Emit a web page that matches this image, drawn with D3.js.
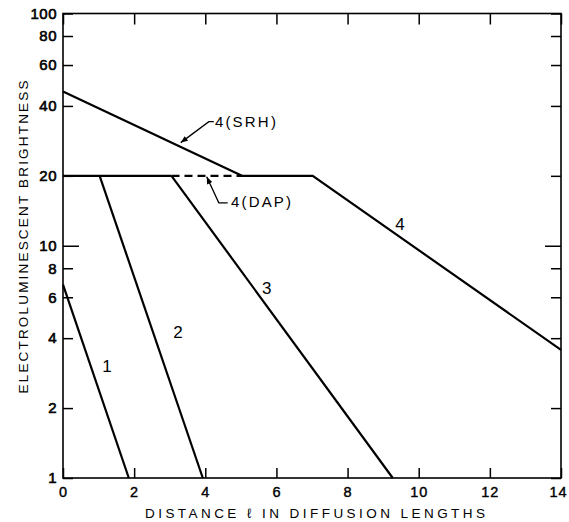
<!DOCTYPE html>
<html>
<head>
<meta charset="utf-8">
<script src="https://cdn.jsdelivr.net/npm/d3@7"></script>
<style>
  html, body { margin: 0; padding: 0; background: #fff; }
  svg { display: block; }
  text { font-family: "Liberation Sans", Arial, sans-serif; fill: #000; }
</style>
</head>
<body>
<svg id="chart" width="569" height="522"></svg>
<script>
// ---- data ----
const xTicks = [0, 2, 4, 6, 8, 10, 12, 14];
const yTicks = [1, 2, 4, 6, 8, 10, 20, 40, 60, 80, 100];
const yTickLabels = ["1", "2", "4", "6", "8", "10", "20", "40", "60", "80", "100"];

const curve1 = [[0, 6.8], [1.85, 1]];
const curve2 = [[1.03, 20], [3.93, 1]];
const curve3 = [[3.05, 20], [9.27, 1]];
const plateau = [[0, 20], [3.05, 20]];
const curve4DAP = [[3.05, 20], [5.03, 20]];
const curve4SRH = [[0, 46.2], [5.03, 20]];
const curve4 = [[5.03, 20], [7.02, 20], [14, 3.56]];

const curveLabels = [
  { text: "1", x: 1.24, y: 2.98 },
  { text: "2", x: 3.23, y: 4.17 },
  { text: "3", x: 5.73, y: 6.46 },
  { text: "4", x: 9.47, y: 12.2 }
];
const callouts = [
  { text: "4(SRH)", tx: 4.27, ty: 33.9, path: [[4.24, 34.2], [4.10, 34.2], [3.31, 27.8]] },
  { text: "4(DAP)", tx: 4.72, ty: 15.2, path: [[4.63, 15.3], [4.38, 15.3], [4.04, 19.8]] }
];

// ---- layout ----
const svg = d3.select("#chart");
const mLeft = 63, mRight = 561, mTop = 13.5, mBottom = 478;

const x = d3.scaleLinear().domain([0, 14]).range([mLeft, mRight]);
const y = d3.scaleLog().domain([1, 100]).range([mBottom, mTop]);

const line = d3.line().x(d => x(d[0])).y(d => y(d[1]));

// frame
svg.append("rect")
  .attr("x", mLeft).attr("y", mTop)
  .attr("width", mRight - mLeft).attr("height", mBottom - mTop)
  .attr("fill", "none").attr("stroke", "#000").attr("stroke-width", 1.6);

// inward ticks via axes
const tickLen = d => (d === 10 ? 16 : 10);

const gLeft = svg.append("g").attr("transform", `translate(${mLeft},0)`)
  .call(d3.axisLeft(y).tickValues(yTicks).tickFormat((d, i) => yTickLabels[i]).tickSize(0).tickPadding(6));
gLeft.select(".domain").remove();
gLeft.selectAll(".tick line").each(function(d) {
  d3.select(this).attr("x2", tickLen(d)).attr("stroke-width", 1.5);
});
gLeft.selectAll(".tick text").attr("font-size", 15).attr("font-family", "Liberation Sans, Arial, sans-serif")
  .attr("stroke", "#000").attr("stroke-width", 0.6).attr("letter-spacing", 0.5);

const gRight = svg.append("g").attr("transform", `translate(${mRight},0)`)
  .call(d3.axisRight(y).tickValues(yTicks).tickFormat("").tickSize(0));
gRight.select(".domain").remove();
gRight.selectAll(".tick line").each(function(d) {
  d3.select(this).attr("x2", -tickLen(d)).attr("stroke-width", 1.5);
});

const gBottom = svg.append("g").attr("transform", `translate(0,${mBottom})`)
  .call(d3.axisBottom(x).tickValues(xTicks).tickFormat(d3.format("d")).tickSize(0).tickPadding(9));
gBottom.select(".domain").remove();
gBottom.selectAll(".tick line").attr("y2", -10).attr("stroke-width", 1.5);
gBottom.selectAll(".tick text").attr("font-size", 14.5).attr("font-family", "Liberation Sans, Arial, sans-serif")
  .attr("stroke", "#000").attr("stroke-width", 0.4).attr("letter-spacing", 1)
  .attr("dx", d => (d === 14 ? -3 : 0));

const gTop = svg.append("g").attr("transform", `translate(0,${mTop})`)
  .call(d3.axisTop(x).tickValues(xTicks).tickFormat("").tickSize(0));
gTop.select(".domain").remove();
gTop.selectAll(".tick line").attr("y2", 11).attr("stroke-width", 1.5);

// curves
const solid = [curve1, curve2, curve3, plateau, curve4SRH, curve4];
svg.append("g").selectAll("path").data(solid).join("path")
  .attr("d", line).attr("fill", "none").attr("stroke", "#000").attr("stroke-width", 2.2);
svg.append("path").datum(curve4DAP).attr("d", line)
  .attr("fill", "none").attr("stroke", "#000").attr("stroke-width", 2.2).attr("stroke-dasharray", "8,5");

// curve labels
svg.append("g").selectAll("text").data(curveLabels).join("text")
  .attr("x", d => x(d.x)).attr("y", d => y(d.y))
  .attr("text-anchor", "middle").attr("dominant-baseline", "middle")
  .attr("font-size", 17).text(d => d.text);

// callouts
svg.append("defs").append("marker")
  .attr("id", "ah").attr("viewBox", "0 0 10 10").attr("refX", 10).attr("refY", 5)
  .attr("markerWidth", 10).attr("markerHeight", 7).attr("markerUnits", "userSpaceOnUse")
  .attr("orient", "auto")
  .append("path").attr("d", "M0,1 L10,5 L0,9 Z").attr("fill", "#000");

const gc = svg.append("g");
gc.selectAll("path").data(callouts).join("path")
  .attr("d", d => line(d.path)).attr("fill", "none").attr("stroke", "#000")
  .attr("stroke-width", 1.3).attr("marker-end", "url(#ah)");
gc.selectAll("text").data(callouts).join("text")
  .attr("x", d => x(d.tx)).attr("y", d => y(d.ty))
  .attr("dominant-baseline", "middle").attr("font-size", 15).attr("letter-spacing", 2.2)
  .text(d => d.text);

// axis titles
svg.append("text")
  .attr("x", 315).attr("y", 518)
  .attr("text-anchor", "middle").attr("font-size", 13.5)
  .attr("textLength", 340).attr("lengthAdjust", "spacing")
  .text("DISTANCE ℓ IN DIFFUSION LENGTHS");

svg.append("text")
  .attr("transform", "translate(28,237) rotate(-90)")
  .attr("text-anchor", "middle").attr("font-size", 13.5)
  .attr("textLength", 313).attr("lengthAdjust", "spacing")
  .text("ELECTROLUMINESCENT BRIGHTNESS");
</script>
</body>
</html>
